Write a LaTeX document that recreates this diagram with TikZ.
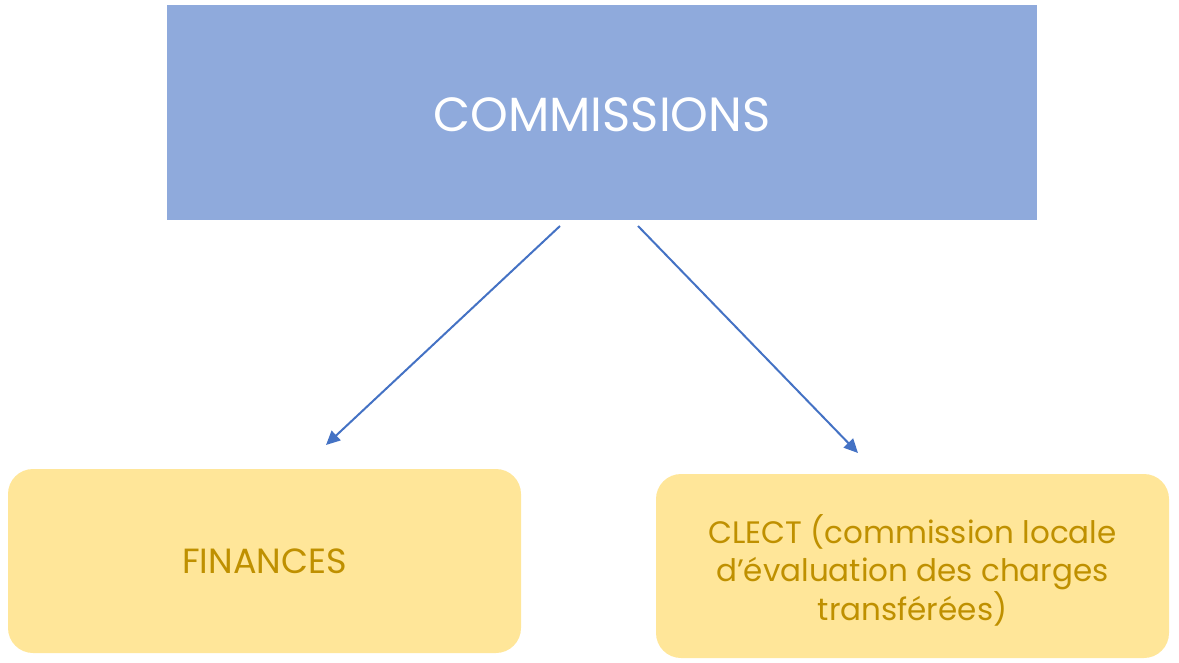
\documentclass[tikz,border=0pt]{standalone}
\usepackage{fontspec}
\setmainfont{Poppins}
\usetikzlibrary{arrows.meta}
\definecolor{topblue}{HTML}{8FAADC}
\definecolor{boxyellow}{HTML}{FFE699}
\definecolor{txtgold}{HTML}{BF9000}
\definecolor{arrowblue}{HTML}{4472C4}
\tikzset{
  x=1pt,y=-1pt,
  topbox/.style={fill=topblue,draw=none,minimum width=870pt,minimum height=215pt,inner sep=0pt},
  ybox/.style={fill=boxyellow,draw=none,rounded corners=25pt,minimum width=513pt,minimum height=184pt,inner sep=0pt},
  toptext/.style={text=white,inner sep=0pt,font=\fontsize{48}{54}\selectfont},
  ytext/.style={text=txtgold,inner sep=0pt,align=center,font=\fontsize{31}{38.5}\selectfont},
  conn/.style={draw=arrowblue,line width=2pt,-{Triangle[length=14pt,width=13pt]}}
}
\begin{document}
\begin{tikzpicture}
\useasboundingbox (0,0) rectangle (1179,663);
\node[topbox] (top) at (602,112.5) {};
\node[toptext] (toplbl) at ([yshift=-2pt]top.center) {COMMISSIONS};
\node[ybox] (fin) at (264.5,561) {};
\node[ytext,font=\fontsize{35}{40}\selectfont] (finlbl) at (fin.center) {FINANCES};
\node[ybox] (clect) at (912.5,566) {};
\node[ytext] (clectlbl) at ([yshift=-4pt]clect.center) {CLECT (commission locale\\d’évaluation des charges\\transférées)};
\coordinate (a1s) at (560,226);
\coordinate (a1e) at (326,445);
\coordinate (a2s) at (638,226);
\coordinate (a2e) at (858,453);
\draw[conn] (a1s) -- (a1e);
\draw[conn] (a2s) -- (a2e);
\end{tikzpicture}
\end{document}
